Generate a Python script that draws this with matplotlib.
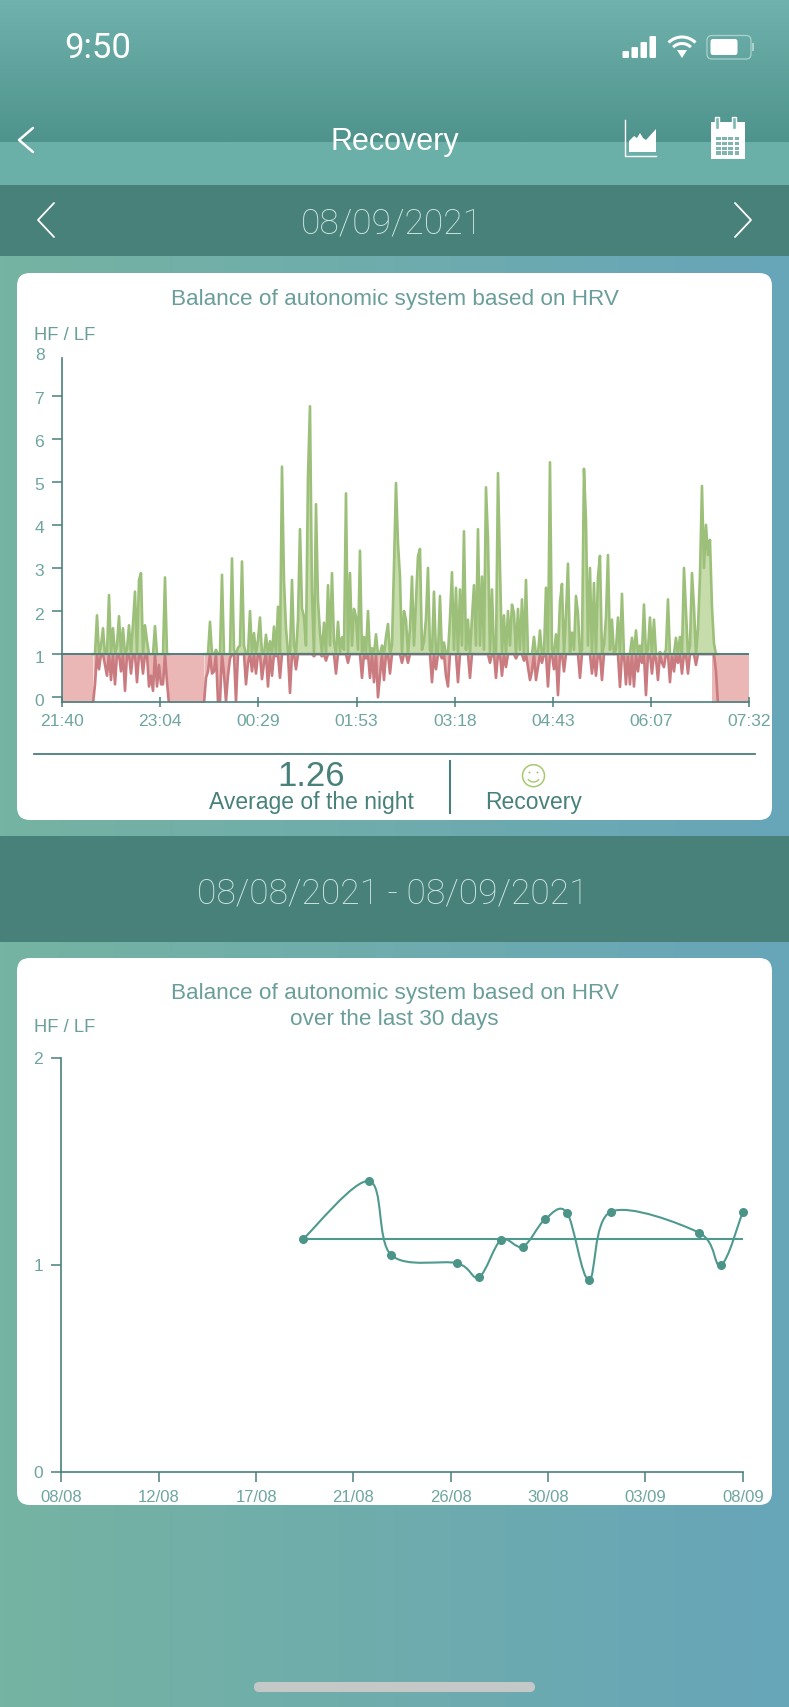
import numpy as np
import matplotlib
matplotlib.use("Agg")
import matplotlib.pyplot as plt
from matplotlib.patches import FancyBboxPatch, Rectangle, Circle, Arc, Polygon, PathPatch
from matplotlib.path import Path
from matplotlib.transforms import ScaledTranslation

plt.rcParams['font.family'] = ['Liberation Sans', 'DejaVu Sans']

W, H = 789, 1707
TEAL_AXIS = "#4a7f7c"
TEAL_TEXT = "#6a9e9a"
TICK_TEXT = "#6fa5a1"

# Nightly HF/LF, one reading every 1.72 minutes
night_step = 1.7226
night_first_start = 26.7
night_first = [
    -0.15, 0.3, 1.9, 0.65, 1.2, 1.6, 0.75, 0.5, 2.37, 0.4, 1.6, 0.3, 1.2, 1.88, 0.6, 1.6, 0.15, 1.1, 1.67,
    0.55, 1.7, 2.45, 0.35, 2.72, 2.88, 0.55, 1.67, 1.3, 0.25, 0.5, 0.15, 1.65, 0.25, 0.75, 0.3, 0.3, 2.78,
    0.35, -0.15,
]
night_second_start = 122.3
night_second = [
    -0.15, 0.45, 0.6, 1.75, 0.55, 0.6, 1.1, -0.1, -0.1, 2.84, 0.55, -0.1, 0.5, 0.9, 3.22, 1.1, -0.1, 1.15,
    1.2, 3.15, 1.2, 0.3, 0.8, 2.0, 0.6, 1.49, 0.55, 1.33, 1.85, 0.42, 0.8, 1.45, 0.25, 1.3, 0.5, 1.64,
    0.95, 2.1, 0.45, 5.35, 2.7, 1.6, 1.05, 0.1, 2.72, 1.2, 0.65, 1.8, 3.9, 2.06,
    1.87, 1.2, 5.12, 6.75, 2.4, 0.95, 4.48, 2.25, 1.5, 0.95, 1.73, 0.85, 2.6, 1.2, 2.88, 1.3, 0.55, 1.75,
    1.05, 1.39, 1.1, 4.73, 0.8, 2.88, 1.2, 2.05, 1.87, 1.1, 3.4, 0.45, 1.4, 0.9, 2.0, 0.45, 1.14, 0.35,
    1.46, 0.0, 0.5, 1.2, 0.4, 1.4, 1.7, 0.55, 1.2, 3.03, 4.97, 3.57, 2.8, 0.8, 2.0, 1.8, 0.8, 1.6,
    2.8, 1.2, 2.25, 3.27, 3.44, 1.1, 1.3, 1.82, 3.0, 1.1, 0.35, 2.45, 0.65, 1.0, 2.35, 0.9, 1.27, 0.5,
    0.25, 1.83, 2.9, 1.1, 2.54, 0.35, 2.5, 1.2, 3.85, 1.1, 1.8, 0.45, 1.83, 2.6, 1.2, 3.9, 1.2, 2.8,
    1.1, 4.87, 3.66, 0.8, 2.5, 1.05, 0.45, 5.2, 3.0, 0.5, 1.9, 0.7, 2.0, 1.2, 2.15, 1.95,
    0.9, 2.05, 1.1, 2.27, 0.85, 2.72, 0.7, 0.4, 0.6, 1.4, 0.4, 0.7, 1.55, 0.8, 1.0, 2.54, 0.25, 5.45,
    1.1, 0.65, 1.46, 0.05, 2.2, 2.63, 0.6, 1.9, 3.1, 1.05, 1.5, 1.1, 2.35, 1.95, 0.45, 1.1, 5.3, 4.1,
    1.2, 3.0, 0.55, 2.65, 0.5, 2.8, 3.28, 0.4, 1.2, 1.85, 3.3, 1.1, 1.8, 1.0, 1.1, 1.85, 0.24,
    2.4, 1.0, 0.3, 1.0, 0.3, 1.38, 0.25, 1.55, 0.6, 1.2, 0.8, 2.15, 0.05, 1.1, 1.85, 0.55, 1.8, 0.9,
    0.4, 1.05, 0.8, 0.7, 1.1, 2.27, 0.35, 1.0, 0.6, 1.38, 0.8, 1.4, 0.55, 3.0, 2.0, 0.55, 1.2, 2.88,
    2.1, 0.75, 1.6, 2.8, 4.9, 3.0, 4.0, 3.3, 3.65, 2.1, 1.25, 0.6, -0.15,
]
no_data_spans = [(0, 26.7), (92.2, 122.3), (560, 592)]
night_labels = ["21:40", "23:04", "00:29", "01:53", "03:18", "04:43", "06:07", "07:32"]

# Last 30 days
month_days = [11, 14, 15, 18, 19, 20, 21, 22, 23, 24, 25, 29, 30, 31]
month_values = [1.125, 1.405, 1.048, 1.008, 0.941, 1.12, 1.088, 1.22, 1.252, 0.927, 1.257, 1.156, 0.998, 1.257]
month_mean = 1.125
month_labels = ["08/08", "12/08", "17/08", "21/08", "26/08", "30/08", "03/09", "08/09"]


def make_axes(fig, left, right, top, bottom):
    ax = fig.add_axes([left / W, 1 - bottom / H, (right - left) / W, (bottom - top) / H])
    ax.patch.set_alpha(0)
    ax.spines["top"].set_visible(False)
    ax.spines["right"].set_visible(False)
    for side in ["left", "bottom"]:
        ax.spines[side].set_color(TEAL_AXIS)
        ax.spines[side].set_linewidth(1.2)
    return ax


def draw_background(bg):
    bg.set_xlim(0, W)
    bg.set_ylim(H, 0)
    bg.axis("off")

    # left to right gradient for the whole page
    left_col = np.array([0x75, 0xb3, 0xa2]) / 255
    right_col = np.array([0x67, 0xa5, 0xb9]) / 255
    ramp = np.linspace(0, 1, 256)[None, :, None]
    bg.imshow(left_col + (right_col - left_col) * ramp, extent=[0, W, H, 0], aspect="auto", zorder=0)

    # header
    top_col = np.array([0x70, 0xb2, 0xad]) / 255
    low_col = np.array([0x4f, 0x93, 0x8d]) / 255
    ramp = np.linspace(0, 1, 128)[:, None, None]
    bg.imshow(top_col + (low_col - top_col) * ramp, extent=[0, W, 142, 0], aspect="auto", zorder=1)
    bg.add_patch(Rectangle((0, 142), W, 43, color="#6bafa9", lw=0, zorder=1))
    bg.add_patch(Rectangle((0, 185), W, 71, color="#47817a", lw=0, zorder=1))
    bg.add_patch(Rectangle((0, 836), W, 106, color="#47817a", lw=0, zorder=1))
    bg.set_xlim(0, W)
    bg.set_ylim(H, 0)

    # cards
    for y0, y1 in [(273, 820), (958, 1505)]:
        bg.add_patch(FancyBboxPatch((17, y0), 755, y1 - y0, boxstyle="round,pad=0,rounding_size=13",
                                    fc="white", ec="none", zorder=2))

    # home bar
    bg.add_patch(FancyBboxPatch((254, 1682), 281, 10, boxstyle="round,pad=0,rounding_size=5",
                                fc="#c4c8c6", ec="none", zorder=2))


def draw_chevron(bg, xs, ys, lw=1.6, color="white"):
    bg.plot(xs, ys, color=color, lw=lw, zorder=3, solid_capstyle="round")


def draw_status_icons(bg):
    # signal bars
    for x, h in zip([622.5, 631.5, 640.5, 649.5], [7, 11, 16, 22]):
        bg.add_patch(FancyBboxPatch((x, 58 - h), 6.5, h, boxstyle="round,pad=0,rounding_size=1.2",
                                    fc="white", ec="none", zorder=3))
    # wifi
    for r in [19, 12.5]:
        bg.add_patch(Arc((682, 56), 2 * r, 2 * r, theta1=225, theta2=315, color="white", lw=2.2, zorder=3))
    bg.add_patch(Polygon([(677, 50), (687, 50), (682, 58)], fc="white", ec="none", zorder=3))
    # battery
    bg.add_patch(FancyBboxPatch((707, 35.5), 44, 23.5, boxstyle="round,pad=0,rounding_size=5",
                                fc="none", ec="#a9d2cd", lw=0.9, zorder=3))
    bg.add_patch(FancyBboxPatch((710.5, 39), 27, 16, boxstyle="round,pad=0,rounding_size=2.5",
                                fc="white", ec="none", zorder=3))
    bg.add_patch(Rectangle((752.5, 43), 1.5, 8, color="#a9d2cd", lw=0, zorder=3))


def draw_nav_icons(bg):
    # chart icon
    bg.plot([625, 625, 656], [120, 156, 156], color="white", lw=1, zorder=3)
    bg.add_patch(Polygon([(629, 152), (629, 141), (634, 136), (637, 138), (640, 133), (643, 138),
                          (646, 140), (656, 129), (656, 152)], fc="white", ec="none", zorder=3))
    # calendar icon
    bg.add_patch(Rectangle((711.5, 122), 33.5, 37, fc="white", ec="none", zorder=3))
    for x in [717, 734]:
        bg.add_patch(Rectangle((x - 2, 117), 4, 12, fc="#7ab9b2", ec="white", lw=1, zorder=4))
    for row in range(4):
        for col in range(4):
            bg.add_patch(Rectangle((716 + col * 6.2, 137 + row * 4.8), 4.6, 3.3, fc="#7fb5ae", ec="none", zorder=4))


def draw_texts(bg):
    bg.text(98, 48.5, "9:50", color="white", fontsize=25, fontfamily=["Roboto", "DejaVu Sans"],
            ha="center", va="center", zorder=5)
    bg.text(395, 142, "Recovery", color="white", fontsize=22, ha="center", va="center", zorder=5)
    bg.text(391.5, 224, "08/09/2021", color="#cfe6e2", fontsize=25.5, fontfamily=["Roboto", "DejaVu Sans"], fontweight="light",
            ha="center", va="center", zorder=5)
    bg.text(392.5, 894, "08/08/2021 - 08/09/2021", color="#cfe6e2", fontsize=25.5, fontfamily=["Roboto", "DejaVu Sans"],
            fontweight="light", ha="center", va="center", zorder=5)

    bg.text(394.5, 299, "Balance of autonomic system based on HRV", color=TEAL_TEXT, fontsize=16.2,
            ha="center", va="center", zorder=5)
    bg.text(34, 335, "HF / LF", color=TEAL_TEXT, fontsize=13.2, ha="left", va="center", zorder=5)
    bg.text(40, 356, "8", color=TICK_TEXT, fontsize=12.6, ha="center", va="center", zorder=5)
    bg.text(311, 776, "1.26", color="#47817a", fontsize=25, ha="center", va="center", zorder=5)
    bg.text(311.5, 803, "Average of the night", color="#47817a", fontsize=16.5, ha="center", va="center", zorder=5)
    bg.text(533.5, 803, "Recovery", color="#47817a", fontsize=16.5, ha="center", va="center", zorder=5)

    bg.text(394.5, 993, "Balance of autonomic system based on HRV", color=TEAL_TEXT, fontsize=16.2,
            ha="center", va="center", zorder=5)
    bg.text(394.5, 1019, "over the last 30 days", color=TEAL_TEXT, fontsize=16.2, ha="center", va="center", zorder=5)
    bg.text(34, 1028, "HF / LF", color=TEAL_TEXT, fontsize=13.2, ha="left", va="center", zorder=5)


def draw_summary(bg):
    bg.plot([34, 755], [753.5, 753.5], color=TEAL_AXIS, lw=1.3, zorder=3)
    bg.plot([450, 450], [761, 813], color=TEAL_AXIS, lw=1.5, zorder=3)
    # smiley
    green = "#a6c96f"
    bg.add_patch(Circle((533.5, 775.7), 11, fc="none", ec=green, lw=1.1, zorder=3))
    bg.add_patch(Circle((529.5, 772.5), 1, fc=green, ec="none", zorder=3))
    bg.add_patch(Circle((537.5, 772.5), 1, fc=green, ec="none", zorder=3))
    bg.add_patch(Arc((533.5, 777), 12, 10, theta1=20, theta2=160, color=green, lw=1, zorder=3))


def draw_night_chart(fig):
    ax = make_axes(fig, 62, 749.3, 358, 702)

    for first, last in no_data_spans:
        ax.fill_between([first, last], -0.2, 1, color="#eab6b6", lw=0, zorder=1)

    parts = [(night_first_start, night_first), (night_second_start, night_second)]
    for start, part in parts:
        values = np.array(part)
        minutes = start + night_step * np.arange(len(values))
        upper = np.maximum(values, 1)
        lower = np.minimum(values, 1)
        ax.fill_between(minutes, 1, upper, color="#c6dcaa", lw=0, zorder=1)
        ax.fill_between(minutes, 1, lower, color="#eab6b6", lw=0, zorder=1)
        ax.plot(minutes, lower, color="#c97b80", lw=1.9, zorder=2)
        ax.plot(minutes, upper, color="#9cc07a", lw=1.9, zorder=2)

    ax.axhline(1, color="#4f7f7d", lw=1.4, zorder=4)

    ax.set_xlim(0, 592)
    ax.set_ylim(-0.11, 7.87)
    ax.set_xticks(np.linspace(0, 592, 8))
    ax.set_xticklabels(night_labels)
    ax.set_yticks(range(8))
    ax.tick_params(axis="x", direction="inout", length=7, width=1.1, color=TEAL_AXIS, labelcolor=TICK_TEXT,
                   labelsize=12.6, pad=5)
    ax.tick_params(axis="y", direction="out", length=7, width=1.1, color=TEAL_AXIS, labelcolor=TICK_TEXT,
                   labelsize=12.6, pad=6)

    # y labels sit a little below their ticks in the app
    down = ScaledTranslation(0, -2.5 / 100, fig.dpi_scale_trans)
    for label in ax.get_yticklabels():
        label.set_transform(label.get_transform() + down)


def draw_month_chart(fig):
    ax = make_axes(fig, 61.4, 742.8, 1058, 1471.7)

    ax.set_xlim(0, 31)
    ax.set_ylim(0, 2)

    # catmull-rom through the readings, same look as the app
    pts = np.column_stack([month_days, month_values])
    ext = np.vstack([pts[0], pts, pts[-1]])
    verts = [tuple(pts[0])]
    codes = [Path.MOVETO]
    for i in range(1, len(ext) - 2):
        c1 = ext[i] + (ext[i + 1] - ext[i - 1]) / 6
        c2 = ext[i + 1] - (ext[i + 2] - ext[i]) / 6
        verts += [tuple(c1), tuple(c2), tuple(ext[i + 1])]
        codes += [Path.CURVE4] * 3
    ax.add_patch(PathPatch(Path(verts, codes), fc="none", ec="#4f9a8f", lw=1.5, zorder=3))

    ax.plot([month_days[0], month_days[-1]], [month_mean, month_mean], color="#4f9a8f", lw=1.5, zorder=3)
    ax.scatter(month_days, month_values, s=30, color="#4a9488", zorder=4, clip_on=False)

    ax.set_xticks(np.linspace(0, 31, 8))
    ax.set_xticklabels(month_labels)
    ax.set_yticks([0, 1, 2])
    ax.tick_params(axis="x", direction="out", length=7, width=1.1, color=TEAL_AXIS, labelcolor=TICK_TEXT,
                   labelsize=12, pad=6)
    ax.tick_params(axis="y", direction="out", length=7, width=1.1, color=TEAL_AXIS, labelcolor=TICK_TEXT,
                   labelsize=12.6, pad=6)


def main() -> None:
    fig = plt.figure(figsize=(W / 100, H / 100), dpi=100)
    bg = fig.add_axes([0, 0, 1, 1])

    draw_background(bg)
    draw_chevron(bg, [33, 19, 33], [128, 140, 152], lw=1.8)
    draw_chevron(bg, [54, 38, 54], [203, 220, 237], lw=1.3)
    draw_chevron(bg, [735, 751, 735], [203, 220, 237], lw=1.3)
    draw_status_icons(bg)
    draw_nav_icons(bg)
    draw_texts(bg)
    draw_summary(bg)

    draw_night_chart(fig)
    draw_month_chart(fig)

    fig.savefig("out.png", dpi=100)


if __name__ == '__main__':
    main()
